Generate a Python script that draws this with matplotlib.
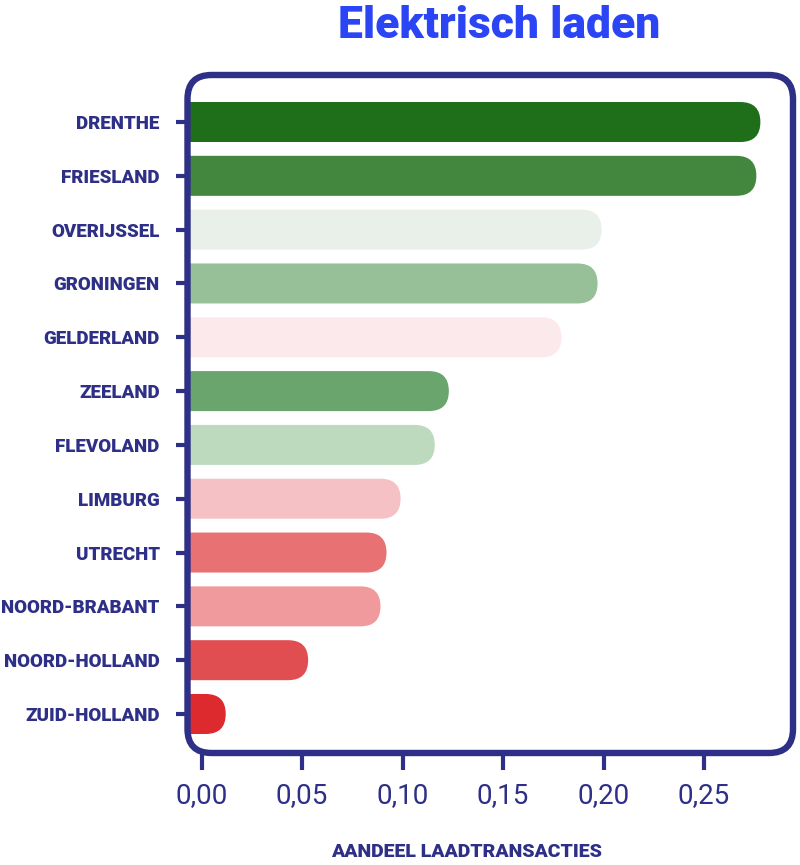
"""
Elektrisch laden -- share of charging transactions per province.
Horizontal bars with rounded ends inside a rounded frame.
"""
import matplotlib
matplotlib.use("Agg")
import matplotlib.pyplot as plt
from matplotlib.patches import FancyBboxPatch
from matplotlib.ticker import FuncFormatter

PROVINCES = ["DRENTHE", "FRIESLAND", "OVERIJSSEL", "GRONINGEN", "GELDERLAND",
             "ZEELAND", "FLEVOLAND", "LIMBURG", "UTRECHT", "NOORD-BRABANT",
             "NOORD-HOLLAND", "ZUID-HOLLAND"]
SHARE = [0.278, 0.276, 0.199, 0.197, 0.179, 0.123, 0.116, 0.099, 0.092,
         0.089, 0.053, 0.012]
COLORS = ["#1f6e1a", "#43873f", "#e9efe9", "#97c098", "#fbe9eb", "#6aa56d",
          "#bddabf", "#f6c1c4", "#e87273", "#f19a9d", "#e04e51", "#dc2a2e"]
XTICKS = [0.00, 0.05, 0.10, 0.15, 0.20, 0.25]

NAVY = "#2e2f86"
BLUE = "#2b45f5"
FONT = "Roboto"

W, H = 800, 865
fig = plt.figure(figsize=(W / 100, H / 100), dpi=100)

# axes box = centre line of the frame, in pixels
left, right, top, bottom = 187.5, 793, 75, 753
ax = fig.add_axes([left / W, 1 - bottom / H, (right - left) / W, (bottom - top) / H])

x0_px, px_per_unit = 201.6, 2010.0
ax.set_xlim((left - x0_px) / px_per_unit, (right - x0_px) / px_per_unit)
n = len(PROVINCES)
row_px = 53.8
ax.set_ylim(n - 1 + (bottom - 714) / row_px, -(122 - top) / row_px)

# aspect for rounding in data units
xr = ax.get_xlim()
yr = ax.get_ylim()
ux = (xr[1] - xr[0]) / (right - left)      # data per px, x
uy = abs(yr[1] - yr[0]) / (bottom - top)   # data per px, y
bar_h = 40 * uy
rad = 20 * ux
start = xr[0] - 30 * ux

for i, (v, c) in enumerate(zip(SHARE, COLORS)):
    p = FancyBboxPatch((start, i - bar_h / 2), v - start, bar_h,
                       boxstyle=f"round,pad=0,rounding_size={rad}",
                       mutation_aspect=uy / ux, facecolor=c,
                       edgecolor="none", zorder=2)
    ax.add_patch(p)

for s in ax.spines.values():
    s.set_visible(False)

# rounded frame
aw, ah = right - left, bottom - top
frame = FancyBboxPatch((0, 0), 1, 1, transform=ax.transAxes,
                       boxstyle=f"round,pad=0,rounding_size={24 / aw}",
                       mutation_aspect=aw / ah, facecolor="none",
                       edgecolor=NAVY, linewidth=4.6, clip_on=False, zorder=5)
ax.add_patch(frame)

ax.set_yticks(range(n))
ax.set_yticklabels(PROVINCES, fontfamily=FONT, fontweight="heavy",
                   fontsize=13.5, color=NAVY)
ax.tick_params(axis="y", length=9, width=3, color=NAVY, pad=11)

ax.set_xticks(XTICKS)
ax.xaxis.set_major_formatter(FuncFormatter(lambda v, _: f"{v:.2f}".replace(".", ",")))
ax.tick_params(axis="x", length=12, width=3, color=NAVY, pad=9,
               labelsize=20, labelcolor=NAVY)
for t in ax.get_xticklabels():
    t.set_fontfamily(FONT)

fig.text(466 / W, 1 - 852 / H, "AANDEEL LAADTRANSACTIES", ha="center",
         va="center", fontfamily=FONT, fontweight="heavy", fontsize=14,
         color=NAVY)

fig.text(499 / W, 1 - 26 / H, "Elektrisch laden", ha="center", va="center",
         fontfamily=FONT, fontweight="heavy", fontsize=32, color=BLUE)

fig.savefig("out.png", dpi=100)
